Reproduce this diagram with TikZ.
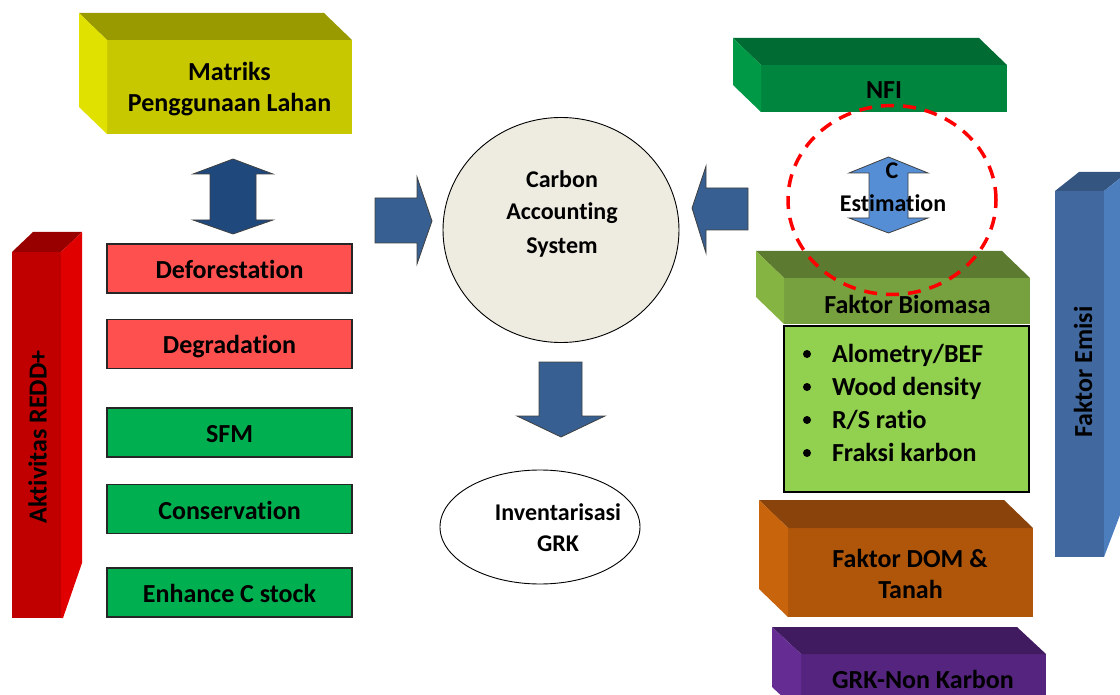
\documentclass[tikz,border=0pt]{standalone}
\usepackage{fontspec}
\setmainfont{Carlito}[Ligatures={NoCommon,NoContextual}]
\usetikzlibrary{shapes.geometric,calc}

% face colours of the 3-D blocks
\definecolor{olvF}{HTML}{C8C800}\definecolor{olvT}{HTML}{999900}\definecolor{olvL}{HTML}{E1E100}
\definecolor{nfiF}{HTML}{00853F}\definecolor{nfiT}{HTML}{006B32}\definecolor{nfiL}{HTML}{009A47}
\definecolor{bioF}{HTML}{77A03E}\definecolor{bioT}{HTML}{5C7A30}\definecolor{bioL}{HTML}{86B443}
\definecolor{domF}{HTML}{B0560A}\definecolor{domT}{HTML}{8A430A}\definecolor{domL}{HTML}{C8640C}
\definecolor{grkF}{HTML}{55247F}\definecolor{grkT}{HTML}{411B60}\definecolor{grkL}{HTML}{652D93}
\definecolor{redF}{HTML}{C00000}\definecolor{redT}{HTML}{980000}\definecolor{redS}{HTML}{E00000}
\definecolor{emF}{HTML}{41699F}\definecolor{emT}{HTML}{34557F}\definecolor{emS}{HTML}{4C7EBE}
% flat boxes, circle and block arrows
\definecolor{lossred}{HTML}{FF5050}
\definecolor{gaingreen}{HTML}{00B050}
\definecolor{listgreen}{HTML}{92D050}
\definecolor{casfill}{HTML}{EEECE1}
\definecolor{navyarrow}{HTML}{1F497D}
\definecolor{midarrow}{HTML}{375F91}
\definecolor{lightarrow}{HTML}{558ED5}

% top face and left face of a block whose front face is node #1
\newcommand\leftblock[4]{%
  \fill[#3] (#1.north west) -- ++(#2) -- ($(#1.north east)+(#2)$) -- (#1.north east) -- cycle;
  \fill[#4] (#1.north west) -- ++(#2) -- ($(#1.south west)+(#2)$) -- (#1.south west) -- cycle;}

\begin{document}
\begin{tikzpicture}[x=1pt,y=-1pt,
  every node/.style={inner sep=0pt, outer sep=0pt, text=black},
  lbl/.style={font=\bfseries\fontsize{26}{31}\selectfont, anchor=base},
  sml/.style={font=\bfseries\fontsize{24}{31}\selectfont, anchor=base},
  front/.style={rectangle, minimum width=#1},
  flatbox/.style={rectangle, draw=black!85, line width=1.2pt, minimum width=245pt, minimum height=49pt},
  blockarrow/.style={draw=black!75, line width=0.8pt, line join=miter}]

\useasboundingbox (0,0) rectangle (1120,695);
\clip (0,0) rectangle (1120,695);

% ---------- left column ----------
\node[front=245pt, minimum height=94pt, fill=olvF] (mat) at (229.5,87) {};
\leftblock{mat}{-28,-27}{olvT}{olvL}
\node[lbl] (matA) at (229.5,81) {Matriks};
\node[lbl] (matB) at (229.5,112) {Penggunaan Lahan};

% up-down arrow between the matrix and the activities
\fill[navyarrow, blockarrow] (233,159) -- (273,174) -- (256,174) -- (256,220) -- (273,220)
  -- (233,234) -- (193,220) -- (210,220) -- (210,174) -- (193,174) -- cycle;

% red side bar
\node[front=49pt, minimum height=366pt, fill=redF] (act) at (36.5,435) {};
\fill[redT] (act.north west) -- ++(21,-20) -- ($(act.north east)+(21,-20)$) -- (act.north east) -- cycle;
\fill[redS] (act.north east) -- ++(21,-20) -- ($(act.south east)+(21,-55)$) -- ($(act.south east)+(2,0)$) -- (act.south east) -- cycle;
\node[lbl, rotate=90] (actT) at (46.5,437) {Aktivitas REDD+};

% activity boxes
\node[flatbox, fill=lossred] (defo) at (229.5,268.5) {};
\node[lbl] (defoT) at (229.5,278.3) {Deforestation};
\node[flatbox, fill=lossred] (degr) at (229.5,344) {};
\node[lbl] (degrT) at (229.5,353.3) {Degradation};
\node[flatbox, fill=gaingreen] (sfm) at (229.5,432.5) {};
\node[lbl] (sfmT) at (229.5,442.5) {SFM};
\node[flatbox, fill=gaingreen] (cons) at (229.5,509) {};
\node[lbl] (consT) at (229.5,519) {Conservation};
\node[flatbox, fill=gaingreen] (enh) at (229.5,592.5) {};
\node[lbl] (enhT) at (229.5,602.3) {Enhance C stock};

% ---------- centre ----------
\node[ellipse, draw=black, line width=0.9pt, fill=casfill, minimum width=236pt, minimum height=225pt] (cas) at (561,230) {};
\node[sml] (casA) at (562,187.3) {Carbon};
\node[sml] (casB) at (562,220) {Accounting};
\node[sml] (casC) at (562,253.3) {System};

% arrows into and out of the accounting system
\fill[midarrow, blockarrow] (375,198) -- (417,198) -- (417,177) -- (432,221) -- (417,264) -- (417,243) -- (375,243) -- cycle;
\fill[midarrow, blockarrow] (748,188) -- (706,188) -- (706,166) -- (692,208) -- (706,253) -- (706,230) -- (748,230) -- cycle;
\fill[midarrow, blockarrow] (539,362) -- (582,362) -- (582,416) -- (605,416) -- (561,437) -- (517,416) -- (539,416) -- cycle;

\node[ellipse, draw=black, line width=0.9pt, fill=white, minimum width=200pt, minimum height=114pt] (inv) at (540,527) {};
\node[sml] (invA) at (558,520) {Inventarisasi};
\node[sml] (invB) at (558,551.7) {GRK};

% ---------- right column ----------
\node[front=246pt, minimum height=47pt, fill=nfiF] (nfi) at (884,88.5) {};
\leftblock{nfi}{-28,-27}{nfiT}{nfiL}
\node[lbl] (nfiLbl) at (884,99) {NFI};

\fill[lightarrow, blockarrow] (888.5,157) -- (928,173) -- (908,173) -- (908,218) -- (928,218)
  -- (888.5,233) -- (849,218) -- (869,218) -- (869,173) -- (849,173) -- cycle;
\node[sml] (estA) at (892,179) {C};
\node[sml] (estB) at (893,212) {Estimation};

\node[front=246pt, minimum height=46pt, fill=bioF] (bio) at (907,301) {};
\leftblock{bio}{-28,-27}{bioT}{bioL}
\node[lbl] (bioLbl) at (907.5,313) {Faktor Biomasa};

\node[rectangle, draw=black, line width=1.2pt, fill=listgreen, minimum width=245pt, minimum height=166pt] (list) at (906.5,409) {};
\node[lbl, anchor=base west] (b1) at (832,362) {Alometry/BEF};
\node[lbl, anchor=base west] (b2) at (832,395) {Wood density};
\node[lbl, anchor=base west] (b3) at (832,428) {R/S ratio};
\node[lbl, anchor=base west] (b4) at (832,461) {Fraksi karbon};
\foreach \yy/\nm in {362/d1,395/d2,428/d3,461/d4}
  \node[circle, fill=black, minimum size=8pt] (\nm) at (807,\yy-8) {};

\node[front=245pt, minimum height=89pt, fill=domF] (dom) at (910.5,572.5) {};
\leftblock{dom}{-29,-28}{domT}{domL}
\node[lbl] (domA) at (910,567) {Faktor DOM \&};
\node[lbl] (domB) at (910.5,598) {Tanah};

\node[front=245pt, minimum height=60pt, fill=grkF] (grk) at (923.5,684) {};
\leftblock{grk}{-29,-27}{grkT}{grkL}
\node[lbl] (grkLbl) at (923,688) {GRK-Non Karbon};

% blue side bar
\node[front=49pt, minimum height=366pt, fill=emF] (emi) at (1079.5,374) {};
\fill[emT] (emi.north west) -- ++(24,-19) -- ($(emi.north east)+(24,-19)$) -- (emi.north east) -- cycle;
\fill[emS] (emi.north east) -- ++(24,-19) -- ($(emi.south east)+(24,-63)$) -- (emi.south east) -- cycle;
\node[lbl, rotate=90] (emiT) at (1092,372) {Faktor Emisi};

% highlight round the carbon estimation step
\node[ellipse, draw=red, line width=3.5pt, dash pattern=on 13pt off 9pt, minimum width=208pt, minimum height=189pt] (hl) at (892,200) {};
\end{tikzpicture}
\end{document}
